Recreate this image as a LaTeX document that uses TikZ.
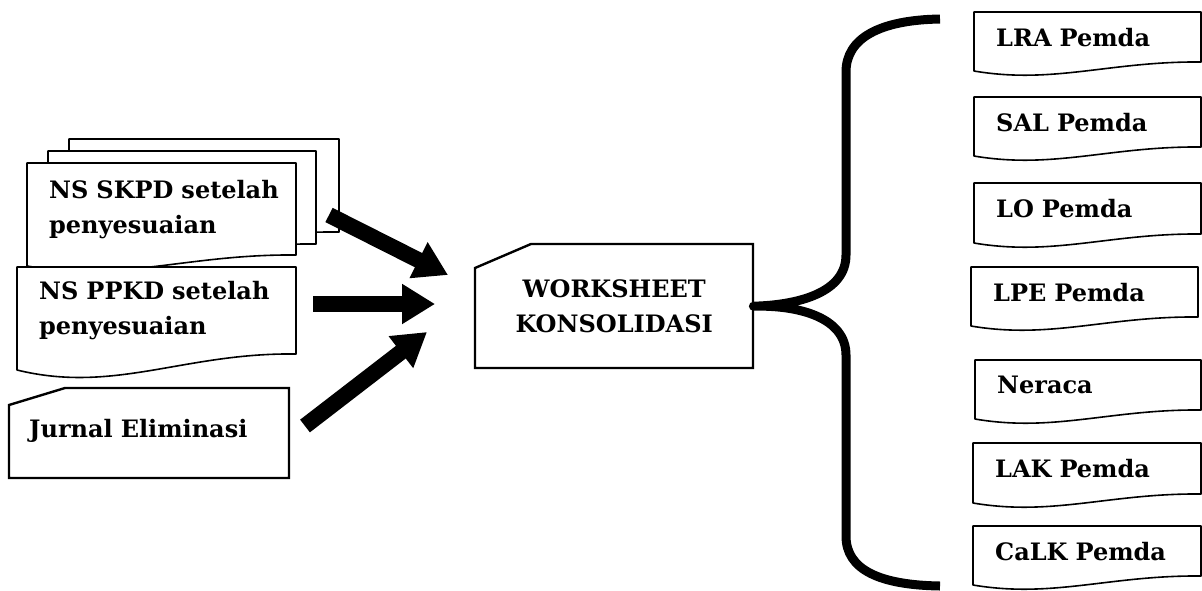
\documentclass[tikz,border=0pt]{standalone}
\usepackage{fontspec}
\setmainfont{DejaVu Serif}
\usepackage{tikz}
\usetikzlibrary{arrows.meta,calc}
\tikzset{every node/.append style={font=\fontsize{24}{35}\selectfont\bfseries}}
\tikzset{
  docbox/.style={inner xsep=0pt,inner ysep=0pt,align=left,anchor=north west},
  docline/.style={draw=black,line width=1.6pt,fill=white,line join=round},
  cardline/.style={draw=black,line width=2.4pt,fill=white,line join=miter},
  bigarrow/.style={line width=16pt,-{Triangle[length=33pt,width=38pt]}},
  bracepath/.style={line width=9pt,line join=round}
}
% #1 rise of right corner, #2 name, #3 left, #4 top, #5 right, #6 bottom, #7 text
\newcommand\docnode[7][9]{%
  \pgfmathsetmacro\docw{#5-#3-24}\pgfmathsetmacro\doch{#6-#4-#1}
  \draw[docline] (#3,#6) -- (#3,#4) -- (#5,#4) -- (#5,#6-#1)
    .. controls ({#3+0.6*(#5-#3)},{#6-1.1*#1}) and ({#3+0.35*(#5-#3)},{#6+1.5*#1}) .. (#3,#6) -- cycle;
  \node[docbox,text width=\docw pt,minimum height=\doch pt] (#2) at (#3+22,#4) {#7};
}
% #1 name, #2 left, #3 top, #4 right, #5 bottom, #6 cut x, #7 cut y
\newcommand\cardshape[7]{%
  \draw[cardline] (#2,#7) -- (#6,#3) -- (#4,#3) -- (#4,#5) -- (#2,#5) -- cycle;
}

\begin{document}
\begin{tikzpicture}[x=1pt,y=-1pt,>=Stealth]
  \useasboundingbox (0,0) rectangle (1202,590);

  \docnode{skpdback}{69}{139}{339}{241}{}
  \docnode{skpdmid}{48}{151}{316}{253}{}
  \docnode[11]{skpd}{27}{163}{296}{266}{NS SKPD setelah\\penyesuaian}
  \docnode[16]{ppkd}{17}{267}{296}{370}{NS PPKD setelah\\penyesuaian}

  \cardshape{jurnal}{9}{388}{289}{478}{65}{405}
  \node[docbox,text width=256pt,minimum height=86pt] (jurnal) at (29,388) {Jurnal Eliminasi};

  \cardshape{ws}{475}{244}{753}{368}{531}{268}
  \node[align=center,minimum width=278pt,minimum height=124pt,inner sep=0pt,anchor=north west] (ws) at (475,244) {WORKSHEET\\KONSOLIDASI};

  \coordinate (a1s) at (329,215);
  \coordinate (a1e) at (448,275);
  \coordinate (a2s) at (313,304);
  \coordinate (a2e) at (435,304);
  \coordinate (a3s) at (305,426);
  \coordinate (a3e) at (427,332);
  \draw[bigarrow] (a1s) -- (a1e);
  \draw[bigarrow] (a2s) -- (a2e);
  \draw[bigarrow] (a3s) -- (a3e);

  \coordinate (bracetop) at (940,19);
  \coordinate (bracebot) at (940,586);
  \draw[bracepath] (bracetop) .. controls (880,20) and (846,38) .. (846,72) -- (846,255)
    .. controls (846,292) and (800,305) .. (ws.east)
    .. controls (800,305) and (846,318) .. (846,355) -- (846,536)
    .. controls (846,570) and (880,585) .. (bracebot);

  \docnode{lra}{974}{12}{1201}{71}{LRA Pemda}
  \docnode{sal}{974}{97}{1201}{156}{SAL Pemda}
  \docnode{lo}{974}{183}{1201}{243}{LO Pemda}
  \docnode{lpe}{971}{267}{1198}{326}{LPE Pemda}
  \docnode{neraca}{975}{360}{1201}{419}{Neraca}
  \docnode{lak}{973}{443}{1201}{503}{LAK Pemda}
  \docnode{calk}{973}{526}{1201}{585}{CaLK Pemda}
\end{tikzpicture}
\end{document}
